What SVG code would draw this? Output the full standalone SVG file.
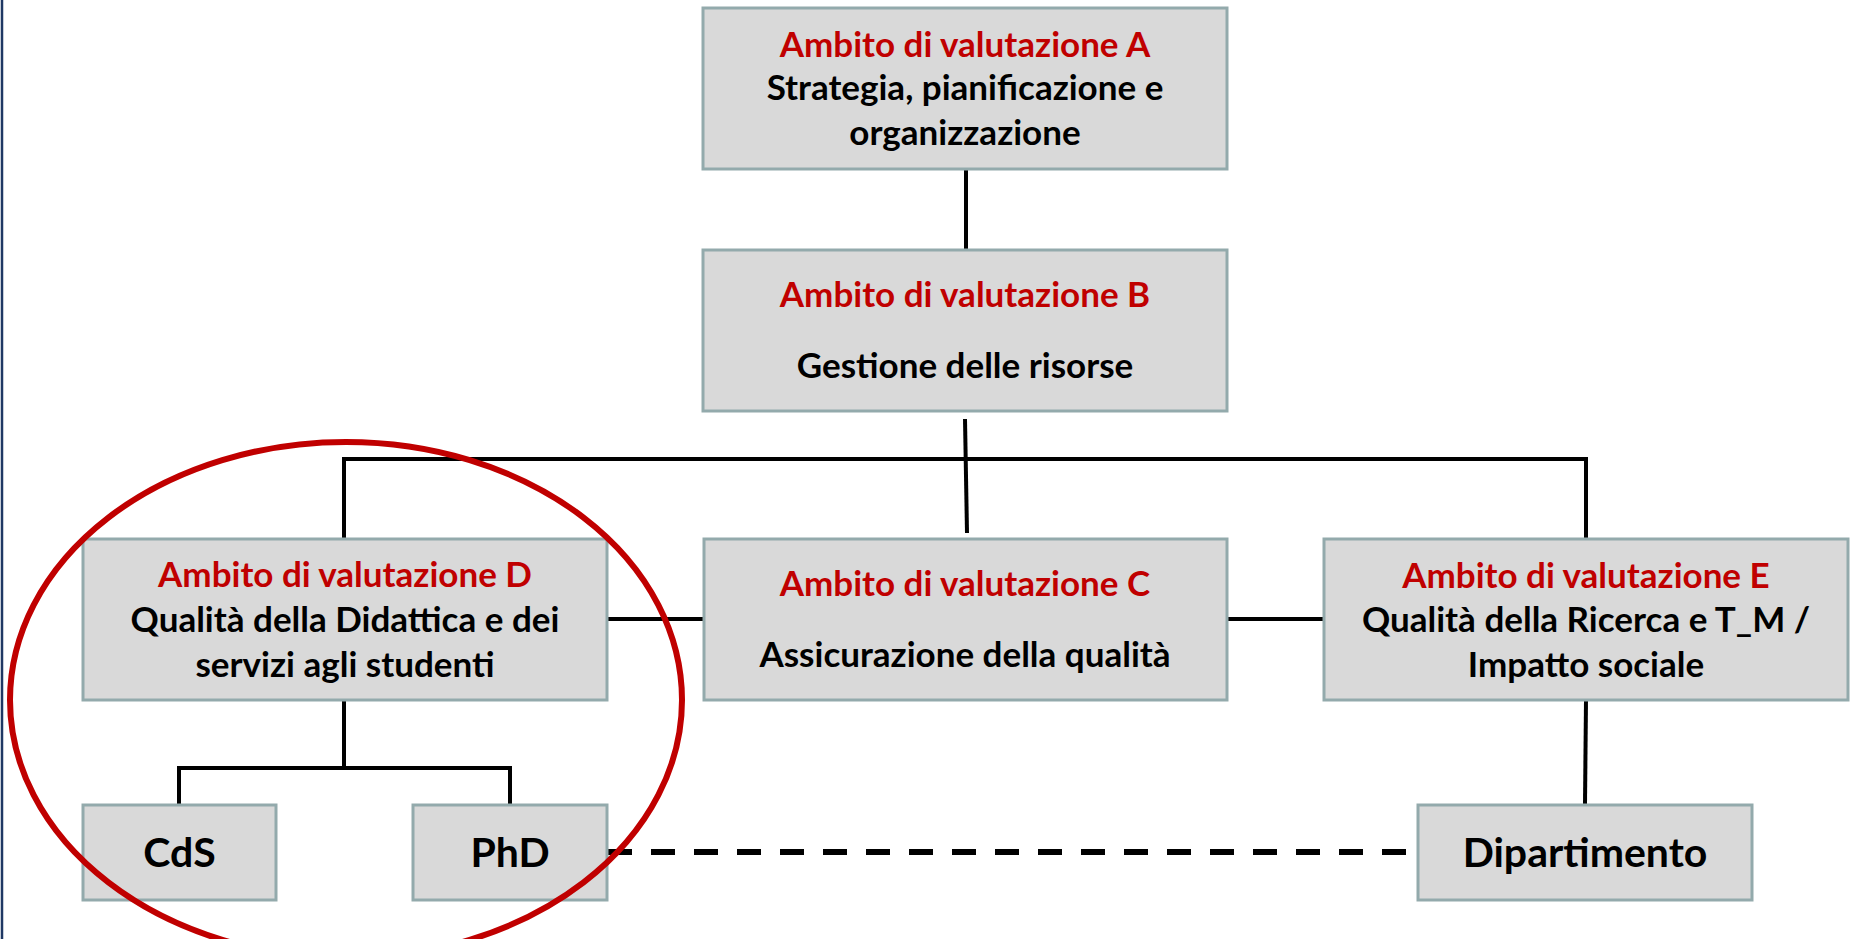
<svg xmlns="http://www.w3.org/2000/svg" width="1850" height="939" viewBox="0 0 1850 939">
<style>
.box{fill:#d9d9d9;stroke:#93aaac;stroke-width:3}
.t{font-family:Lato,"Liberation Sans",sans-serif;font-weight:bold;text-anchor:middle;font-size:35px;fill:#000}
.r{fill:#c00000}
.big{font-size:41px}
.ln{stroke:#000;stroke-width:4;fill:none}
.dash{stroke:#000;stroke-width:6;fill:none;stroke-dasharray:24 19}
</style>
<rect x="0" y="0" width="1850" height="939" fill="#fff"/>
<line x1="2" y1="0" x2="2" y2="939" stroke="#1f3864" stroke-width="2.5"/>
<g id="connectors">
<line class="ln" x1="966" y1="169" x2="966" y2="250"/>
<line class="ln" x1="965" y1="419" x2="967" y2="533"/>
<polyline class="ln" points="344,539 344,459 1586,459 1586,539"/>
<line class="ln" x1="607" y1="619" x2="704" y2="619"/>
<line class="ln" x1="1227" y1="619" x2="1324" y2="619"/>
<line class="ln" x1="344" y1="700" x2="344" y2="768"/>
<polyline class="ln" points="179,805 179,768 510,768 510,805"/>
<line class="ln" x1="1586" y1="700" x2="1585" y2="804"/>
<line class="dash" x1="608" y1="852" x2="1418" y2="852"/>
</g>
<g id="nodeA">
<rect class="box" x="703" y="8" width="524" height="161"/>
<text class="t r" x="965" y="57">Ambito di valutazione A</text>
<text class="t" x="965" y="100">Strategia, pianificazione e</text>
<text class="t" x="965" y="145">organizzazione</text>
</g>
<g id="nodeB">
<rect class="box" x="703" y="250" width="524" height="161"/>
<text class="t r" x="965" y="307">Ambito di valutazione B</text>
<text class="t" x="965" y="378">Gestione delle risorse</text>
</g>
<g id="nodeD">
<rect class="box" x="83" y="539" width="524" height="161"/>
<text class="t r" x="345" y="587">Ambito di valutazione D</text>
<text class="t" x="345" y="632">Qualità della Didattica e dei</text>
<text class="t" x="345" y="677">servizi agli studenti</text>
</g>
<g id="nodeC">
<rect class="box" x="704" y="539" width="523" height="161"/>
<text class="t r" x="965" y="596">Ambito di valutazione C</text>
<text class="t" x="965" y="667">Assicurazione della qualità</text>
</g>
<g id="nodeE">
<rect class="box" x="1324" y="539" width="524" height="161"/>
<text class="t r" x="1586" y="588">Ambito di valutazione E</text>
<text class="t" x="1586" y="632">Qualità della Ricerca e T_M /</text>
<text class="t" x="1586" y="677">Impatto sociale</text>
</g>
<g id="nodeCdS">
<rect class="box" x="83" y="805" width="193" height="95"/>
<text class="t big" x="179.5" y="867">CdS</text>
</g>
<g id="nodePhD">
<rect class="box" x="413" y="805" width="194" height="95"/>
<text class="t big" x="510" y="867">PhD</text>
</g>
<g id="nodeDip">
<rect class="box" x="1418" y="805" width="334" height="95"/>
<text class="t big" x="1585" y="867">Dipartimento</text>
</g>
<ellipse id="highlight" cx="346" cy="700" rx="336" ry="258" fill="none" stroke="#c00000" stroke-width="6"/>
</svg>
